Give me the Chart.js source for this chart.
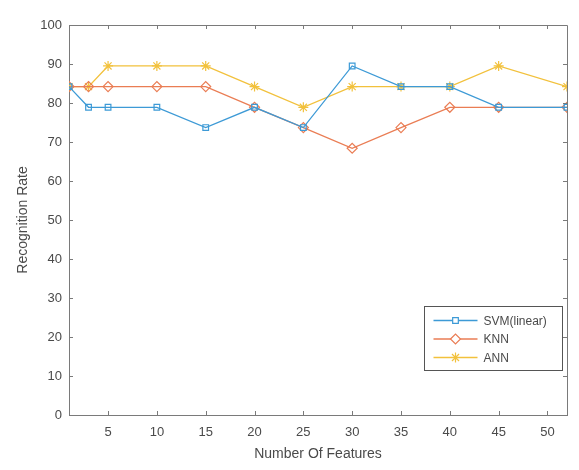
<!DOCTYPE html>
<html>
<head>
<meta charset="utf-8">
<script src="https://cdn.jsdelivr.net/npm/chart.js@4"></script>
<style>
  html, body { margin: 0; padding: 0; background: #fff; }
  #wrap { width: 579px; height: 470px; }
</style>
</head>
<body>
<div id="wrap"><canvas id="featureChart"></canvas></div>
<script>
var features = [1, 3, 5, 10, 15, 20, 25, 30, 35, 40, 45, 52];
var svmRate = [84.2, 78.9, 78.9, 78.9, 73.7, 78.9, 73.7, 89.5, 84.2, 84.2, 78.9, 78.9];
var knnRate = [84.2, 84.2, 84.2, 84.2, 84.2, 78.9, 73.7, 68.4, 73.7, 78.9, 78.9, 78.9];
var annRate = [84.2, 84.2, 89.5, 89.5, 89.5, 84.2, 78.9, 84.2, 84.2, 84.2, 89.5, 84.2];
var xTicks = [5, 10, 15, 20, 25, 30, 35, 40, 45, 50];
var yTicks = [0, 10, 20, 30, 40, 50, 60, 70, 80, 90, 100];

var axisColor = '#7a7a7a';
var textColor = '#4a4a4a';

function toPoints(values) {
	return features.map(function(f, i) { return { x: f, y: values[i] }; });
}

function makeSet(label, values, color, style, radius) {
	return {
		label: label,
		data: toPoints(values),
		borderColor: color,
		backgroundColor: color,
		borderWidth: 1.3,
		pointStyle: style,
		pointRadius: radius,
		pointBorderWidth: 1.2,
		pointBackgroundColor: 'rgba(255,255,255,0)',
		pointBorderColor: color,
		tension: 0
	};
}

// inward tick marks + box + legend inside the axes
var matlabAxes = {
	id: 'matlabAxes',
	afterDraw: function(c) {
		var ctx = c.ctx;
		var a = c.chartArea;
		var xs = c.scales.x, ys = c.scales.y;
		ctx.save();
		ctx.strokeStyle = axisColor;
		ctx.lineWidth = 1;
		ctx.beginPath();
		ctx.moveTo(a.left, a.top + 0.5);
		ctx.lineTo(a.right + 0.5, a.top + 0.5);
		ctx.lineTo(a.right + 0.5, a.bottom);
		ctx.stroke();
		ctx.beginPath();
		xTicks.forEach(function(t) {
			var px = Math.round(xs.getPixelForValue(t)) + 0.5;
			ctx.moveTo(px, a.bottom); ctx.lineTo(px, a.bottom - 4);
			ctx.moveTo(px, a.top); ctx.lineTo(px, a.top + 4);
		});
		yTicks.forEach(function(t) {
			var py = Math.round(ys.getPixelForValue(t)) + 0.5;
			ctx.moveTo(a.left, py); ctx.lineTo(a.left + 4, py);
			ctx.moveTo(a.right, py); ctx.lineTo(a.right - 4, py);
		});
		ctx.stroke();

		// legend box
		var bx = 424.5, by = 306.5, bw = 138, bh = 64;
		ctx.fillStyle = '#fff';
		ctx.fillRect(bx, by, bw, bh);
		ctx.strokeStyle = '#555';
		ctx.strokeRect(bx, by, bw, bh);
		ctx.font = '12px "Liberation Sans", Arial, sans-serif';
		ctx.textBaseline = 'middle';
		c.data.datasets.forEach(function(ds, i) {
			var ly = by + 14 + i * 18.5;
			ctx.strokeStyle = ds.borderColor;
			ctx.lineWidth = 1.3;
			ctx.beginPath();
			ctx.moveTo(bx + 9, ly); ctx.lineTo(bx + 53, ly);
			ctx.stroke();
			ctx.fillStyle = '#fff';
			ctx.lineWidth = 1.2;
			Chart.helpers.drawPoint(ctx, { pointStyle: ds.pointStyle, radius: ds.pointRadius, borderWidth: 1.2, rotation: 0 }, bx + 31, ly);
			ctx.fillStyle = textColor;
			ctx.fillText(ds.label, bx + 59, ly + 1);
		});
		ctx.restore();
	}
};

function renderChart(id) {
	var chart = document.getElementById(id);
	var options = {
		type: 'line',
		data: {
			datasets: [
				makeSet('SVM(linear)', svmRate, '#3d9ad6', 'rect', 4),
				makeSet('KNN', knnRate, '#ea7d54', 'rectRot', 5),
				makeSet('ANN', annRate, '#f2c13c', 'star', 5)
			]
		},
		plugins: [matlabAxes],
		options: {
			responsive: true,
			maintainAspectRatio: false,
			animation: false,
			layout: { padding: { top: 25, right: 12, left: 0, bottom: 0 } },
			scales: {
				x: {
					type: 'linear',
					min: 1,
					max: 52,
					afterBuildTicks: function(s) { s.ticks = xTicks.map(function(v) { return { value: v }; }); },
					afterFit: function(s) { s.height = 55; },
					grid: { display: false, drawTicks: false },
					border: { display: true, color: axisColor, width: 1 },
					ticks: { color: textColor, padding: 10, font: { size: 13, family: '"Liberation Sans", Arial, sans-serif' }, maxRotation: 0 },
					title: { display: true, text: 'Number Of Features', color: textColor, padding: { top: 0, bottom: 7 }, font: { size: 14, family: '"Liberation Sans", Arial, sans-serif' } }
				},
				y: {
					min: 0,
					max: 100,
					afterBuildTicks: function(s) { s.ticks = yTicks.map(function(v) { return { value: v }; }); },
					afterFit: function(s) { s.width = 69; },
					grid: { display: false, drawTicks: false },
					border: { display: true, color: axisColor, width: 1 },
					ticks: { color: textColor, padding: 7, font: { size: 13, family: '"Liberation Sans", Arial, sans-serif' } },
					title: { display: true, text: 'Recognition Rate', color: textColor, padding: { top: 15, bottom: 0 }, font: { size: 14, family: '"Liberation Sans", Arial, sans-serif' } }
				}
			},
			plugins: {
				legend: { display: false },
				tooltip: { enabled: false }
			}
		}
	};
	new Chart(chart, options);
}

renderChart('featureChart');
</script>
</body>
</html>
